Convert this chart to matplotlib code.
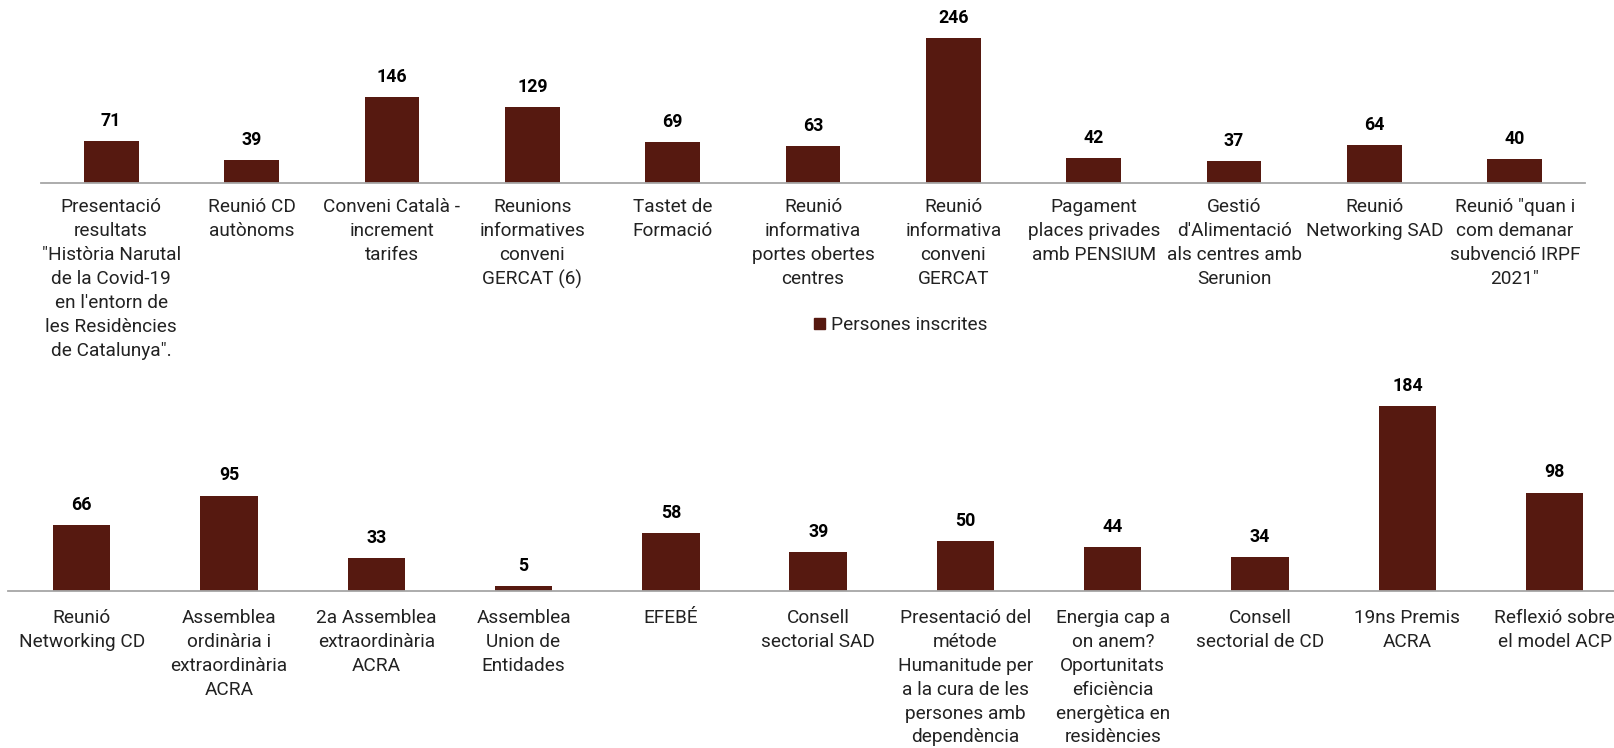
import matplotlib.pyplot as plt
from matplotlib.patches import Patch

plt.rcParams['font.family'] = ['Roboto', 'DejaVu Sans']

top_labels = [
    "Presentació\nresultats\n\"Història Narutal\nde la Covid-19\nen l'entorn de\nles Residències\nde Catalunya\".",
    "Reunió CD\nautònoms",
    "Conveni Català -\nincrement\ntarifes",
    "Reunions\ninformatives\nconveni\nGERCAT (6)",
    "Tastet de\nFormació",
    "Reunió\ninformativa\nportes obertes\ncentres",
    "Reunió\ninformativa\nconveni\nGERCAT",
    "Pagament\nplaces privades\namb PENSIUM",
    "Gestió\nd'Alimentació\nals centres amb\nSerunion",
    "Reunió\nNetworking SAD",
    "Reunió \"quan i\ncom demanar\nsubvenció IRPF\n2021\"",
]
top_values = [71, 39, 146, 129, 69, 63, 246, 42, 37, 64, 40]

bottom_labels = [
    "Reunió\nNetworking CD",
    "Assemblea\nordinària i\nextraordinària\nACRA",
    "2a Assemblea\nextraordinària\nACRA",
    "Assemblea\nUnion de\nEntidades",
    "EFEBÉ",
    "Consell\nsectorial SAD",
    "Presentació del\nmétode\nHumanitude per\na la cura de les\npersones amb\ndependència",
    "Energia cap a\non anem?\nOportunitats\neficiència\nenergètica en\nresidències",
    "Consell\nsectorial de CD",
    "19ns Premis\nACRA",
    "Reflexió sobre\nel model ACP",
]
bottom_values = [66, 95, 33, 5, 58, 39, 50, 44, 34, 184, 98]

series_name = "Persones inscrites"

BAR_COLOR = "#561910"
TEXT_COLOR = "#222222"
AXIS_COLOR = "#a6a6a6"
LABEL_SIZE = 13.7
W, H = 1614, 748


def draw_bars(ax, labels, values, ymax, pad):
    x = list(range(len(values)))
    bars = ax.bar(x, values, width=0.39, color=BAR_COLOR)
    for b, v in zip(bars, values):
        ax.annotate(str(v), (b.get_x() + b.get_width() / 2, v),
                    xytext=(0, 8), textcoords='offset points',
                    ha='center', va='bottom', fontsize=12.8,
                    fontweight='bold', color='black')
    ax.set_xlim(-0.5, len(values) - 0.5)
    ax.set_ylim(0, ymax)
    ax.set_xticks(x)
    ax.set_xticklabels(labels, fontsize=LABEL_SIZE, color=TEXT_COLOR)
    for t in ax.get_xticklabels():
        t.set_linespacing(1.42)
    ax.tick_params(axis='x', length=0, pad=pad)
    ax.set_yticks([])
    for side in ['top', 'right', 'left']:
        ax.spines[side].set_visible(False)
    ax.spines['bottom'].set_color(AXIS_COLOR)
    ax.spines['bottom'].set_linewidth(1.3)
    ax.patch.set_alpha(0)
    return bars


def main():
    fig = plt.figure(figsize=(W / 100, H / 100), dpi=100)

    # top chart: axis from x=41 to 1585 px, baseline at y=183 px
    ax1 = fig.add_axes([41 / W, 1 - 183 / H, 1544 / W, 183 / H])
    draw_bars(ax1, top_labels, top_values, 183 / 0.588, 11)

    # bottom chart is wider than the picture and gets cut on the right
    ax2 = fig.add_axes([8 / W, 1 - 591 / H, 11 * 147.3 / W, 221 / H])
    draw_bars(ax2, bottom_labels, bottom_values, 221 / 1.005, 13)

    fig.legend([Patch(color=BAR_COLOR)], [series_name],
               loc='center', bbox_to_anchor=(901 / W, 1 - 325 / H),
               frameon=False, fontsize=LABEL_SIZE, handlelength=0.55,
               handleheight=0.55, handletextpad=0.35,
               labelcolor=TEXT_COLOR)

    fig.savefig("out.png", dpi=100)
    plt.close(fig)


if __name__ == "__main__":
    main()
